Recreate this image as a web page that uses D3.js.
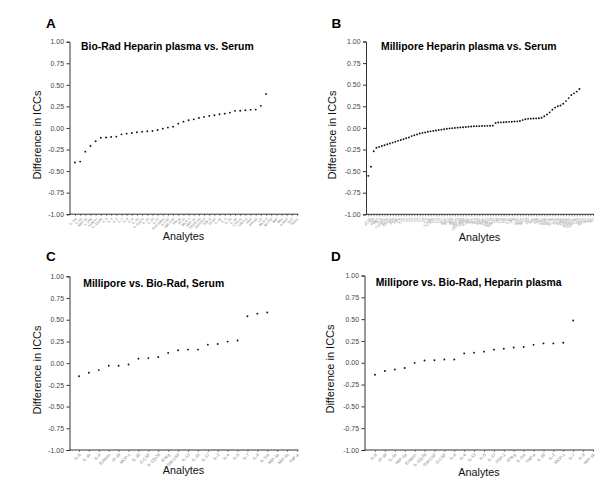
<!DOCTYPE html>
<html><head><meta charset="utf-8">
<script src="https://cdn.jsdelivr.net/npm/d3@7"></script>
<style>
body{margin:0;background:#fff}
svg{display:block}
text{font-family:"Liberation Sans",Arial,Helvetica,sans-serif}
</style>
</head><body>
<svg id="chart" width="601" height="487"></svg>
<script>
// ---------- DATA ----------
const yTickValues = [1.00, 0.75, 0.50, 0.25, 0.00, -0.25, -0.50, -0.75, -1.00];

const analytesA = ["IL-1ra","IL-1b","MIP-1a","IL-2Ra","Eotaxin","IL-12p40","IL-6","IL-4","IL-5","IL-7",
  "IL-8","IL-9","IL-10","IL-12p70","IL-13","IL-15","IL-17","FGF basic","G-CSF","GM-CSF",
  "IFN-g","IP-10","MCP-1","MIP-1b","PDGF-bb","RANTES","TNF-a","VEGF","IL-1a","IL-3",
  "IL-16","IL-18","CTACK","GRO-a","HGF","IFN-a2","LIF","MCP-3","M-CSF","MIF",
  "MIG","b-NGF","SCF","TRAIL"];
const iccDiffA = [-0.40,-0.39,-0.275,-0.21,-0.155,-0.113,-0.11,-0.105,-0.10,-0.074,
  -0.066,-0.058,-0.05,-0.043,-0.039,-0.035,-0.023,-0.008,0.004,0.015,
  0.05,0.073,0.09,0.10,0.116,0.128,0.14,0.147,0.159,0.166,
  0.178,0.198,0.20,0.206,0.21,0.213,0.256,0.395];

const analytesB = ["IL-1a","sIL-2Ra","EGF","Eotaxin","FGF-2","Flt-3L","Fractalkine","G-CSF","GM-CSF","GRO",
  "IFN-a2","IFN-g","IL-1b","IL-1ra","IL-2","IL-3","IL-4","IL-5","IL-6","IL-7",
  "IL-8","IL-9","IL-10","IL-12p40","IL-12p70","IL-13","IL-15","IL-17","IP-10","MCP-1",
  "MCP-3","MDC","MIP-1a","MIP-1b","PDGF-AA","PDGF-AB/BB","RANTES","sCD40L","TGF-a","TNF-a",
  "TNF-b","VEGF","6Ckine","BCA-1","CTACK","ENA-78","Eotaxin-2","Eotaxin-3","I-309","IL-16",
  "IL-20","IL-21","IL-23","IL-28A","IL-33","LIF","MCP-2","MCP-4","MIP-1d","SCF",
  "SDF-1","TARC","TPO","TRAIL","TSLP","sCD30","sEGFR","sgp130","sIL-1RI","sIL-1RII",
  "sIL-4R","sIL-6R","sRAGE","sTNFRI","sTNFRII","sVEGFR1","sVEGFR2","sVEGFR3","Leptin","Insulin",
  "Resistin","PAI-1","HGF","NGF"];
const iccDiffB = [-0.555,-0.45,-0.27,-0.23,-0.22,-0.21,-0.20,-0.19,-0.18,-0.17,
  -0.16,-0.15,-0.14,-0.13,-0.12,-0.11,-0.095,-0.085,-0.075,-0.065,
  -0.058,-0.052,-0.045,-0.04,-0.035,-0.03,-0.025,-0.02,-0.015,-0.01,
  -0.006,-0.003,0.0,0.003,0.006,0.008,0.011,0.014,0.017,0.019,
  0.02,0.021,0.022,0.023,0.024,0.025,0.026,0.058,0.062,0.064,
  0.066,0.068,0.07,0.072,0.074,0.076,0.08,0.09,0.10,0.105,
  0.107,0.109,0.11,0.112,0.118,0.135,0.155,0.18,0.21,0.235,
  0.25,0.26,0.28,0.31,0.345,0.38,0.40,0.42,0.45];

const analytesC = ["IL-6","IL-1b","IL-8","Eotaxin","IP-10","MCP-1","IL-10","G-CSF","IL-12p70","IFN-g",
  "GM-CSF","IL-13","IL-15","IL-17","IL-2","IL-4","IL-5","IL-7","IL-9","IL-1ra",
  "MIP-1a","MIP-1b","TNF-a"];
const iccDiffC = [-0.15,-0.11,-0.08,-0.03,-0.03,-0.015,0.052,0.058,0.07,0.118,
  0.149,0.156,0.156,0.213,0.221,0.248,0.26,0.54,0.57,0.584];

const analytesD = ["IL-8","IP-10","IL-1b","MIP-1a","Eotaxin","IL-12p70","GM-CSF","G-CSF","IL-6","IL-4",
  "IL-13","IL-5","IL-17","FGF-2","IFN-g","IL-1ra","TNF-a","IL-10","IL-2","MCP-1",
  "IL-7","IL-9","MIP-1b"];
const iccDiffD = [-0.137,-0.095,-0.078,-0.06,-0.002,0.026,0.029,0.037,0.037,0.107,
  0.116,0.127,0.15,0.16,0.175,0.18,0.205,0.222,0.222,0.23,0.485];

const panelLetters = ["A","B","C","D"];
const panelTitles = ["Bio-Rad Heparin plasma vs. Serum","Millipore Heparin plasma vs. Serum",
  "Millipore vs. Bio-Rad, Serum","Millipore vs. Bio-Rad, Heparin plasma"];
const yAxisTitle = "Difference in ICCs";
const xAxisTitle = "Analytes";

// ---------- LAYOUT (positions only) ----------
const layouts = [
  {axisX:69.5, firstX:75, lastX:297, axisEnd:298.5, yTop:41.7, yBottom:214.2,
   letterX:46, letterY:28, titleX:81, titleY:50, yLabX:40.5, yLabY:135, xLabX:183.5, xLabY:240, tickFont:3.4},
  {axisX:366, firstX:368.3, lastX:593, axisEnd:594, yTop:41.5, yBottom:214.3,
   letterX:331.5, letterY:28, titleX:381, titleY:49.5, yLabX:335.5, yLabY:135, xLabX:479.5, xLabY:241, tickFont:2.8},
  {axisX:69.5, firstX:79, lastX:297, axisEnd:298.5, yTop:276.3, yBottom:450,
   letterX:46, letterY:261, titleX:83.3, titleY:287, yLabX:40.5, yLabY:370, xLabX:183.5, xLabY:474, tickFont:4.2},
  {axisX:364.5, firstX:375, lastX:593, axisEnd:594, yTop:275.5, yBottom:450,
   letterX:331, letterY:261, titleX:375.7, titleY:286, yLabX:333.5, yLabY:369, xLabX:479, xLabY:476, tickFont:4.2}
];

const labelSets = [analytesA, analytesB, analytesC, analytesD];
const valueSets = [iccDiffA, iccDiffB, iccDiffC, iccDiffD];

// ---------- DRAW ----------
const svg = d3.select("#chart");
svg.append("rect").attr("width",601).attr("height",487).attr("fill","#fff");

layouts.forEach((L, p) => {
  const labels = labelSets[p], values = valueSets[p];
  const g = svg.append("g");

  const y = d3.scaleLinear().domain([-1, 1]).range([L.yBottom, L.yTop]);
  const x = d3.scalePoint().domain(d3.range(labels.length)).range([L.firstX, L.lastX]);

  // y axis
  const ya = g.append("g").attr("transform", `translate(${L.axisX},0)`)
    .call(d3.axisLeft(y).tickValues(yTickValues).tickFormat(d => d.toFixed(2)).tickSize(3).tickPadding(2.5));
  ya.select(".domain").attr("stroke","#333").attr("stroke-width",1);
  ya.selectAll(".tick line").attr("stroke","#333");
  ya.selectAll(".tick text").attr("font-size",6.9).attr("fill","#444")
    .attr("font-family",'"Liberation Sans",Arial,sans-serif');

  // x axis
  const xa = g.append("g").attr("transform", `translate(0,${L.yBottom})`)
    .call(d3.axisBottom(x).tickFormat(i => labels[i]).tickSize(2).tickSizeOuter(0));
  xa.select(".domain").remove();
  xa.selectAll(".tick line").attr("stroke","#444").attr("stroke-width",0.6);
  xa.selectAll(".tick text")
    .attr("font-size", L.tickFont).attr("fill","#777")
    .attr("font-family",'"Liberation Sans",Arial,sans-serif')
    .attr("text-anchor","end").attr("x",0).attr("y",0).attr("dy","0.35em")
    .attr("transform","translate(0.5,4) rotate(-45)");
  g.append("line").attr("x1", L.axisX).attr("x2", L.axisEnd)
    .attr("y1", L.yBottom).attr("y2", L.yBottom)
    .attr("stroke","#333").attr("stroke-width",1);

  // points
  g.selectAll("circle.pt").data(values).join("circle").attr("class","pt")
    .attr("cx", (d, i) => x(i)).attr("cy", d => y(d))
    .attr("r", 0.95).attr("fill","#111");

  // texts
  g.append("text").attr("x", L.letterX).attr("y", L.letterY)
    .attr("font-size", 13.5).attr("font-weight","bold").attr("fill","#000").text(panelLetters[p]);
  g.append("text").attr("x", L.titleX).attr("y", L.titleY)
    .attr("font-size", 10.4).attr("font-weight","bold").attr("fill","#000").text(panelTitles[p]);
  g.append("text").attr("transform", `translate(${L.yLabX},${L.yLabY}) rotate(-90)`)
    .attr("text-anchor","middle").attr("font-size", 11).attr("fill","#111").text(yAxisTitle);
  g.append("text").attr("x", L.xLabX).attr("y", L.xLabY)
    .attr("text-anchor","middle").attr("font-size", 10.8).attr("fill","#111").text(xAxisTitle);
});
</script>
</body></html>
